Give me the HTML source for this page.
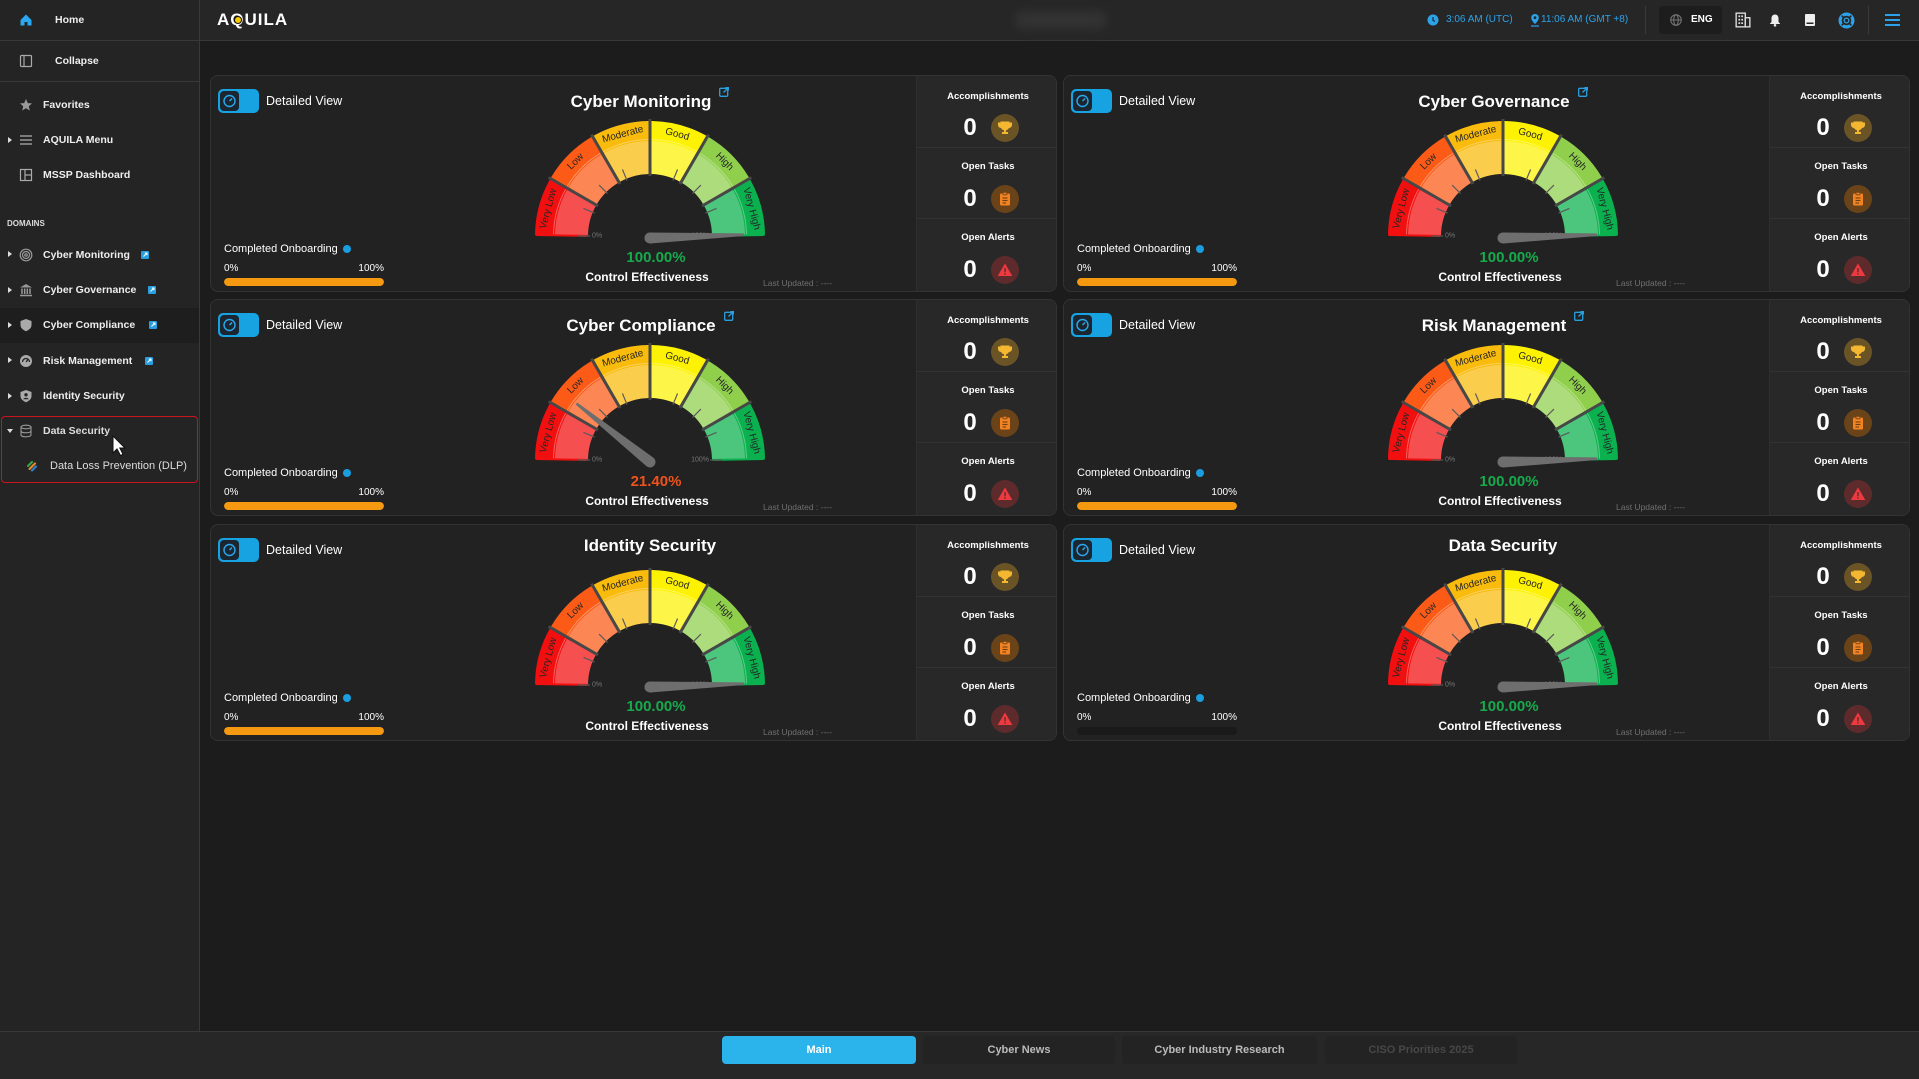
<!DOCTYPE html>
<html><head><meta charset="utf-8">
<style>
*{box-sizing:border-box;margin:0;padding:0}
html,body{width:1919px;height:1079px;overflow:hidden;background:#1c1c1c;font-family:"Liberation Sans",sans-serif;color:#fff}
.abs{position:absolute}
#side{position:absolute;left:0;top:0;width:200px;height:1031px;background:#242424;border-right:1px solid #383838}
.hr{position:absolute;left:0;width:199px;height:1px;background:#383838}
.si{position:absolute;left:43px;font-size:10.5px;font-weight:bold;color:#eee;line-height:14px;height:14px;white-space:nowrap}
.ico{position:absolute;left:19px;width:14px;height:14px}
.car{position:absolute;left:8px;width:0;height:0;border-left:4px solid #ddd;border-top:3.5px solid transparent;border-bottom:3.5px solid transparent}
.lkb{position:absolute;width:8px;height:8px}
#hdr{position:absolute;left:200px;top:0;width:1719px;height:41px;background:#262626;border-bottom:1px solid #383838}
.ht{position:absolute;top:14px;font-size:10px;line-height:12px;color:#2ba3ea;white-space:nowrap}
.card{position:absolute;width:847px;height:217px;background:#222;border:1px solid #333;border-radius:8px;overflow:hidden}
.tog{position:absolute;left:7px;top:13px;width:41px;height:24px;background:#17a2e2;border-radius:5px}
.ti{position:absolute;left:2px;top:2px;width:19px;height:20px;background:#1b2630;border-radius:4px}
.dv{position:absolute;left:55px;top:17px;font-size:12.5px;line-height:16px;white-space:nowrap}
.ttl{position:absolute;left:239px;width:400px;top:11px;text-align:center;font-weight:bold;font-size:17px;line-height:20px;white-space:nowrap}
.ttl svg{vertical-align:10px;margin-left:8px}
.g{position:absolute;left:309px;top:38px}
.val{position:absolute;left:345px;width:200px;top:172px;text-align:center;font-weight:bold;font-size:15px;line-height:20px;color:#17aa4d}
.ce{position:absolute;left:336px;width:200px;top:193px;text-align:center;font-weight:bold;font-size:12px;line-height:16px}
.co{position:absolute;left:13px;top:166px;font-size:11px;line-height:14px;white-space:nowrap}
.info{position:absolute;left:132px;top:169px;width:8px;height:8px;border-radius:50%;background:#1a9ee0}
.p0{position:absolute;left:13px;top:187px;font-size:10px;line-height:12px}
.p1{position:absolute;left:113px;width:60px;text-align:right;top:187px;font-size:10px;line-height:12px}
.bar{position:absolute;left:13px;top:202px;width:160px;height:8px;border-radius:4px;background:#1a1a1a;overflow:hidden}
.bar div{height:100%;background:#f59a10;border-radius:4px}
.lu{position:absolute;left:552px;top:202px;font-size:8.5px;line-height:10px;color:#707070;white-space:nowrap}
.st{position:absolute;left:705px;top:0;width:142px;height:217px;background:#282828;border-left:1px solid #2e2e2e}
.sl{position:absolute;left:0;width:142px;text-align:center;font-size:9.5px;font-weight:bold;line-height:12px}
.z{position:absolute;left:43px;width:20px;text-align:center;font-size:24px;font-weight:bold;line-height:28px}
.ic{position:absolute;left:74px;width:28px;height:28px;border-radius:50%}
.ic svg{position:absolute;left:6px;top:6px}
.hd{position:absolute;left:0;width:142px;height:1px;background:#333}
#ftr{position:absolute;left:0;top:1031px;width:1919px;height:48px;background:#272727;border-top:1px solid #383838}
.tab{position:absolute;top:4px;height:28px;width:193px;border-radius:4px;background:#232323;text-align:center;font-size:11px;line-height:28px;color:#bbb;white-space:nowrap;font-weight:bold}
</style></head><body>

<svg width="0" height="0" style="position:absolute">
<defs>
<path id="sg" d="M-112.98,-1.97A113,113 0 0 1 -98.83,-54.78L-55.98,-31.03A64,64 0 0 0 -63.99,-1.12Z" stroke-width="4" stroke-linejoin="round"/>
<path id="ov" d="M-94.99,-1.66A95,95 0 0 1 -83.09,-46.06L-54.23,-30.06A62,62 0 0 0 -61.99,-1.08Z" fill="#fff" fill-opacity=".27"/>
<path id="ln" d="M-96.49,-1.68A96.5,96.5 0 0 1 -84.40,-46.78" stroke="#fff" stroke-opacity=".35" fill="none"/>
<g id="base">
<use href="#sg" fill="#f20f0f" stroke="#f20f0f"/><use href="#ov"/><use href="#ln"/>
<g transform="rotate(30)"><use href="#sg" fill="#fb5b16" stroke="#fb5b16"/><use href="#ov"/><use href="#ln"/></g>
<g transform="rotate(60)"><use href="#sg" fill="#f9bb0c" stroke="#f9bb0c"/><use href="#ov"/><use href="#ln"/></g>
<g transform="rotate(90)"><use href="#sg" fill="#fdf204" stroke="#fdf204"/><use href="#ov"/><use href="#ln"/></g>
<g transform="rotate(120)"><use href="#sg" fill="#8fcf4c" stroke="#8fcf4c"/><use href="#ov"/><use href="#ln"/></g>
<g transform="rotate(150)"><use href="#sg" fill="#0ab14e" stroke="#0ab14e"/><use href="#ov"/><use href="#ln"/></g>
<g stroke="#474747" stroke-width="3">
<line x1="-60" y1="0" x2="-117" y2="0" transform="rotate(30)"/>
<line x1="-60" y1="0" x2="-117" y2="0" transform="rotate(60)"/>
<line x1="-60" y1="0" x2="-117" y2="0" transform="rotate(90)"/>
<line x1="-60" y1="0" x2="-117" y2="0" transform="rotate(120)"/>
<line x1="-60" y1="0" x2="-117" y2="0" transform="rotate(150)"/>
</g>
<g stroke="#5a5a5a" stroke-width="1.2">
<line x1="-60" y1="0" x2="-72" y2="0"/>
<line x1="-60" y1="0" x2="-72" y2="0" transform="rotate(22.5)"/>
<line x1="-60" y1="0" x2="-72" y2="0" transform="rotate(45)"/>
<line x1="-60" y1="0" x2="-72" y2="0" transform="rotate(67.5)"/>
<line x1="-60" y1="0" x2="-72" y2="0" transform="rotate(112.5)"/>
<line x1="-60" y1="0" x2="-72" y2="0" transform="rotate(135)"/>
<line x1="-60" y1="0" x2="-72" y2="0" transform="rotate(157.5)"/>
<line x1="-60" y1="0" x2="-72" y2="0" transform="rotate(180)"/>
</g>
</g>
<g id="tgi" fill="none" stroke="#2aa8ee" stroke-width="1.4"><circle cx="9.5" cy="10" r="5.5"/><line x1="9.5" y1="10" x2="12" y2="7.5"/></g>
<g id="lnk"><rect x="0.7" y="1.3" width="8" height="8" rx="1" fill="none" stroke="#2a9fe0" stroke-width="1.3"/><path d="M4.5 5.5L9.5 0.5M6.5 0.5H9.5V3.5" fill="none" stroke="#2a9fe0" stroke-width="1.3"/></g>
<g id="lkb"><rect width="8" height="8" rx="1" fill="#2a9fe0"/><path d="M2.5 5.5L6 2M3.8 2H6V4.2" stroke="#fff" stroke-width="1" fill="none"/></g>
</defs>
</svg>

<!-- SIDEBAR -->
<div id="side">
  <div class="hr" style="top:40px"></div>
  <div class="hr" style="top:81px"></div>
  <svg class="ico" style="top:13px" viewBox="0 0 14 14"><path d="M1.5 7L7 1.5L12.5 7V12.5H8.5V9H5.5V12.5H1.5Z" fill="#2aa8f0"/></svg>
  <div class="si" style="left:55px;top:13px">Home</div>
  <svg class="ico" style="top:54px" viewBox="0 0 14 14"><rect x="1.5" y="1.5" width="11" height="11" rx="1" fill="none" stroke="#aaa" stroke-width="1.2"/><line x1="5" y1="1.5" x2="5" y2="12.5" stroke="#aaa" stroke-width="1.2"/></svg>
  <div class="si" style="left:55px;top:54px">Collapse</div>
  <svg class="ico" style="top:98px" viewBox="0 0 14 14"><path d="M7 1L8.8 5.1L13 5.4L9.8 8.2L10.8 12.5L7 10.2L3.2 12.5L4.2 8.2L1 5.4L5.2 5.1Z" fill="#999"/></svg>
  <div class="si" style="top:98px">Favorites</div>
  <div class="car" style="top:136.5px"></div>
  <svg class="ico" style="top:133px" viewBox="0 0 14 14"><g stroke="#aaa" stroke-width="1.3"><line x1="1" y1="3" x2="13" y2="3"/><line x1="1" y1="7" x2="13" y2="7"/><line x1="1" y1="11" x2="13" y2="11"/></g></svg>
  <div class="si" style="top:133px">AQUILA Menu</div>
  <svg class="ico" style="top:168px" viewBox="0 0 14 14"><rect x="1.5" y="1.5" width="11" height="11" fill="none" stroke="#aaa" stroke-width="1.2"/><line x1="6" y1="1.5" x2="6" y2="12.5" stroke="#aaa" stroke-width="1.2"/><line x1="6" y1="7" x2="12.5" y2="7" stroke="#aaa" stroke-width="1.2"/></svg>
  <div class="si" style="top:168px">MSSP Dashboard</div>
  <div class="abs" style="left:7px;top:219px;font-size:8px;font-weight:bold;color:#ddd;line-height:10px">DOMAINS</div>

  <div class="car" style="top:251px"></div>
  <svg class="ico" style="top:247.5px" viewBox="0 0 14 14"><g fill="none" stroke="#999" stroke-width="1.2"><circle cx="7" cy="7" r="5.8"/><circle cx="7" cy="7" r="3.5"/><circle cx="7" cy="7" r="1.2"/></g></svg>
  <div class="si" style="top:247.5px">Cyber Monitoring</div>
  <svg class="lkb" style="left:141px;top:250.5px"><use href="#lkb"/></svg>

  <div class="car" style="top:286.5px"></div>
  <svg class="ico" style="top:283px" viewBox="0 0 14 14"><path d="M1 4.5L7 1L13 4.5Z" fill="#999"/><g stroke="#999" stroke-width="1.5"><line x1="3" y1="5.5" x2="3" y2="11"/><line x1="5.7" y1="5.5" x2="5.7" y2="11"/><line x1="8.3" y1="5.5" x2="8.3" y2="11"/><line x1="11" y1="5.5" x2="11" y2="11"/><line x1="1" y1="12.5" x2="13" y2="12.5"/></g></svg>
  <div class="si" style="top:283px">Cyber Governance</div>
  <svg class="lkb" style="left:148px;top:286px"><use href="#lkb"/></svg>

  <div class="abs" style="left:0;top:308px;width:199px;height:35px;background:#1e1e1e"></div>
  <div class="car" style="top:321.5px"></div>
  <svg class="ico" style="top:318px" viewBox="0 0 14 14"><path d="M7 1L12.5 3V7C12.5 10 10 12 7 13.2C4 12 1.5 10 1.5 7V3Z" fill="#aaa"/></svg>
  <div class="si" style="top:318px">Cyber Compliance</div>
  <svg class="lkb" style="left:149px;top:321px"><use href="#lkb"/></svg>

  <div class="car" style="top:357px"></div>
  <svg class="ico" style="top:353.5px" viewBox="0 0 14 14"><circle cx="7" cy="7" r="6" fill="#aaa"/><path d="M3.5 8A3.5 3.5 0 0 1 10.5 8" fill="none" stroke="#242424" stroke-width="1.3"/><line x1="7" y1="8" x2="9" y2="5.5" stroke="#242424" stroke-width="1.3"/></svg>
  <div class="si" style="top:353.5px">Risk Management</div>
  <svg class="lkb" style="left:145px;top:356.5px"><use href="#lkb"/></svg>

  <div class="car" style="top:392.5px"></div>
  <svg class="ico" style="top:389px" viewBox="0 0 14 14"><path d="M7 1L12.5 3V7C12.5 10 10 12 7 13.2C4 12 1.5 10 1.5 7V3Z" fill="#aaa"/><circle cx="7" cy="5.8" r="1.7" fill="#242424"/><path d="M4.3 10.3C4.8 8.3 9.2 8.3 9.7 10.3Z" fill="#242424"/></svg>
  <div class="si" style="top:389px">Identity Security</div>

  <div class="abs" style="left:1px;top:416px;width:197px;height:67px;border:1.5px solid #c8141e;border-radius:4px"></div>
  <div class="abs" style="left:7px;top:429px;width:0;height:0;border-top:4px solid #ddd;border-left:3.5px solid transparent;border-right:3.5px solid transparent"></div>
  <svg class="ico" style="top:424px" viewBox="0 0 14 14"><g fill="none" stroke="#999" stroke-width="1.1"><ellipse cx="7" cy="3" rx="5" ry="1.8"/><path d="M2 3V11C2 12 4 12.8 7 12.8C10 12.8 12 12 12 11V3"/><path d="M2 7C2 8 4 8.8 7 8.8C10 8.8 12 8 12 7"/></g></svg>
  <div class="si" style="top:424px;color:#ddd">Data Security</div>
  <svg class="abs" style="left:112px;top:435px" width="16" height="22" viewBox="0 0 16 22"><path d="M1 1V18L5 14L8.5 20.5L11 19.3L7.8 13H13Z" fill="#fff" stroke="#111" stroke-width="1"/></svg>
  <svg class="abs" style="left:26px;top:460px" width="12" height="12" viewBox="0 0 12 12"><g stroke-width="2.2" stroke-linecap="round"><line x1="2" y1="6" x2="6" y2="2" stroke="#3fa34d"/><line x1="3.5" y1="9" x2="9" y2="3.5" stroke="#e38b2b"/><line x1="6" y1="10.5" x2="10" y2="6.5" stroke="#2e7fd0"/></g></svg>
  <div class="si" style="left:50px;top:459px;color:#ddd;font-weight:normal;font-size:11px">Data Loss Prevention (DLP)</div>
</div>

<!-- HEADER -->
<div id="hdr">
  <div class="abs" style="left:17px;top:10px;font-size:17px;font-weight:bold;letter-spacing:1px;line-height:20px">AQUILA</div>
  <div class="abs" style="left:34.5px;top:17px;width:6px;height:6px;border-radius:50%;background:#f5c800;box-shadow:0 0 0 1px #111"></div>
  <div class="abs" style="left:815px;top:11px;width:92px;height:18px;border-radius:8px;background:#333;filter:blur(5px)"></div>
  <svg class="abs" style="left:1227px;top:14px" width="12" height="12" viewBox="0 0 12 12"><circle cx="6" cy="6" r="5.5" fill="#2ba3ea"/><path d="M6 3V6.3L8 7.5" stroke="#262626" stroke-width="1.2" fill="none"/></svg>
  <div class="ht" style="left:1246px">3:06 AM (UTC)</div>
  <svg class="abs" style="left:1330px;top:13px" width="10" height="14" viewBox="0 0 10 14"><path d="M5 1C2.8 1 1.2 2.7 1.2 4.7C1.2 7.5 5 11 5 11C5 11 8.8 7.5 8.8 4.7C8.8 2.7 7.2 1 5 1Z" fill="#2ba3ea"/><circle cx="5" cy="4.7" r="1.4" fill="#262626"/><line x1="1" y1="13" x2="9" y2="13" stroke="#2ba3ea" stroke-width="1.2"/></svg>
  <div class="ht" style="left:1341px">11:06 AM (GMT +8)</div>
  <div class="abs" style="left:1445px;top:6px;width:1px;height:28px;background:#3a3a3a"></div>
  <div class="abs" style="left:1459px;top:6px;width:63px;height:28px;border-radius:4px;background:#1d1d1d"></div>
  <svg class="abs" style="left:1470px;top:14px" width="12" height="12" viewBox="0 0 12 12"><g fill="none" stroke="#777" stroke-width="1"><circle cx="6" cy="6" r="5.3"/><ellipse cx="6" cy="6" rx="2.3" ry="5.3"/><line x1="0.7" y1="6" x2="11.3" y2="6"/></g></svg>
  <div class="abs" style="left:1491px;top:14px;font-size:10px;font-weight:bold;line-height:12px">ENG</div>
  <svg class="abs" style="left:1535px;top:12px" width="16" height="16" viewBox="0 0 14 14"><rect x="1" y="1" width="8" height="12" fill="none" stroke="#ddd" stroke-width="1.2"/><rect x="9" y="5" width="4" height="8" fill="none" stroke="#ddd" stroke-width="1.2"/><g fill="#ddd"><rect x="3" y="3" width="1.5" height="1.5"/><rect x="5.5" y="3" width="1.5" height="1.5"/><rect x="3" y="6" width="1.5" height="1.5"/><rect x="5.5" y="6" width="1.5" height="1.5"/><rect x="3" y="9" width="1.5" height="1.5"/><rect x="5.5" y="9" width="1.5" height="1.5"/></g></svg>
  <svg class="abs" style="left:1569px;top:13px" width="12" height="14" viewBox="0 0 12 14"><path d="M6 1.5C3.5 1.5 2.5 3.5 2.5 5.5V9L1 10.5V11H11V10.5L9.5 9V5.5C9.5 3.5 8.5 1.5 6 1.5Z" fill="#eee"/><circle cx="6" cy="12.3" r="1.3" fill="#eee"/></svg>
  <svg class="abs" style="left:1604px;top:13px" width="12" height="14" viewBox="0 0 12 14"><rect x="1" y="1" width="10" height="12" rx="1" fill="#eee"/><rect x="2.5" y="9.5" width="7" height="1.5" fill="#262626"/></svg>
  <svg class="abs" style="left:1638px;top:12px" width="17" height="17" viewBox="0 0 16 16"><circle cx="8" cy="8" r="6" fill="none" stroke="#2ba3ea" stroke-width="3"/><circle cx="8" cy="8" r="2.2" fill="none" stroke="#2ba3ea" stroke-width="1.2"/><g stroke="#262626" stroke-width="1.5"><line x1="3.5" y1="3.5" x2="5.8" y2="5.8"/><line x1="12.5" y1="3.5" x2="10.2" y2="5.8"/><line x1="3.5" y1="12.5" x2="5.8" y2="10.2"/><line x1="12.5" y1="12.5" x2="10.2" y2="10.2"/></g></svg>
  <div class="abs" style="left:1668px;top:6px;width:1px;height:28px;background:#3a3a3a"></div>
  <svg class="abs" style="left:1684px;top:13px" width="17" height="14" viewBox="0 0 17 14"><g stroke="#2ba3ea" stroke-width="2"><line x1="1" y1="2" x2="16" y2="2"/><line x1="1" y1="7" x2="16" y2="7"/><line x1="1" y1="12" x2="16" y2="12"/></g></svg>
</div>

<!-- CARD 1 -->
<div class="card" style="left:210px;top:75px">
  <div class="tog"><div class="ti"><svg width="19" height="20"><use href="#tgi"/></svg></div></div>
  <div class="dv">Detailed View</div>
  <div class="ttl">Cyber Monitoring<svg width="10" height="10" viewBox="0 0 10 10"><use href="#lnk"/></svg></div>
  <svg class="g" width="260" height="130" viewBox="-130 -122 260 130">
    <use href="#base"/>
    <g font-size="10" fill="#262626" text-anchor="middle"><text transform="rotate(-75) translate(0,-106)" dy="3.5">Very Low</text><text transform="rotate(-45) translate(0,-106)" dy="3.5">Low</text><text transform="rotate(-15) translate(0,-106)" dy="3.5">Moderate</text><text transform="rotate(15) translate(0,-106)" dy="3.5">Good</text><text transform="rotate(45) translate(0,-106)" dy="3.5">High</text><text transform="rotate(75) translate(0,-106)" dy="3.5">Very High</text></g>
    <text x="-58" y="1.5" font-size="7" fill="#777">0%</text><text x="59" y="1.5" font-size="7" fill="#777" text-anchor="end">100%</text>
    <g transform="translate(0,2) rotate(178)" fill="#6e6e6e"><path d="M0,-5.5L-94,-1.3L-94,1.3L0,5.5Z"/><circle r="5.5"/></g>
  </svg>
  <div class="val">100.00%</div>
  <div class="ce">Control Effectiveness</div>
  <div class="co">Completed Onboarding</div><div class="info"></div>
  <div class="p0">0%</div><div class="p1">100%</div>
  <div class="bar"><div style="width:100%"></div></div>
  <div class="lu">Last Updated : ----</div>
  <div class="st">
    <div class="sl" style="top:15px">Accomplishments</div>
    <div class="z" style="top:38px">0</div>
    <div class="ic" style="top:38px;background:#6a5426"><svg width="16" height="16" viewBox="0 0 16 16"><path d="M4 2H12V6A4 4 0 0 1 4 6Z M4 3H1.5V5A2.5 2.5 0 0 0 4 7.5 M12 3H14.5V5A2.5 2.5 0 0 1 12 7.5" fill="#f4b731" stroke="#f4b731" stroke-width="1"/><path d="M7 10H9V12H11V14H5V12H7Z" fill="#f4b731"/></svg></div>
    <div class="hd" style="top:71px"></div>
    <div class="sl" style="top:85px">Open Tasks</div>
    <div class="z" style="top:109px">0</div>
    <div class="ic" style="top:109px;background:#6a4418"><svg width="16" height="16" viewBox="0 0 16 16"><rect x="3" y="2.5" width="10" height="12" rx="1.2" fill="#f58220"/><rect x="6" y="1.3" width="4" height="2.5" rx=".6" fill="#f58220" stroke="#6a4418" stroke-width=".8"/><g stroke="#6a4418" stroke-width="1.1"><line x1="5.5" y1="7" x2="10.5" y2="7"/><line x1="5.5" y1="9.5" x2="10.5" y2="9.5"/><line x1="5.5" y1="12" x2="9" y2="12"/></g></svg></div>
    <div class="hd" style="top:142px"></div>
    <div class="sl" style="top:156px">Open Alerts</div>
    <div class="z" style="top:180px">0</div>
    <div class="ic" style="top:180px;background:#5e2b2d"><svg width="16" height="16" viewBox="0 0 16 16"><path d="M8 1.5L15.3 14H0.7Z" fill="#ee3a3f"/><rect x="7.3" y="6" width="1.4" height="4.3" fill="#5e2b2d"/><rect x="7.3" y="11.2" width="1.4" height="1.4" fill="#5e2b2d"/></svg></div>
  </div>
</div>

<!-- CARD 2 -->
<div class="card" style="left:1063px;top:75px">
  <div class="tog"><div class="ti"><svg width="19" height="20"><use href="#tgi"/></svg></div></div>
  <div class="dv">Detailed View</div>
  <div class="ttl">Cyber Governance<svg width="10" height="10" viewBox="0 0 10 10"><use href="#lnk"/></svg></div>
  <svg class="g" width="260" height="130" viewBox="-130 -122 260 130">
    <use href="#base"/>
    <g font-size="10" fill="#262626" text-anchor="middle"><text transform="rotate(-75) translate(0,-106)" dy="3.5">Very Low</text><text transform="rotate(-45) translate(0,-106)" dy="3.5">Low</text><text transform="rotate(-15) translate(0,-106)" dy="3.5">Moderate</text><text transform="rotate(15) translate(0,-106)" dy="3.5">Good</text><text transform="rotate(45) translate(0,-106)" dy="3.5">High</text><text transform="rotate(75) translate(0,-106)" dy="3.5">Very High</text></g>
    <text x="-58" y="1.5" font-size="7" fill="#777">0%</text><text x="59" y="1.5" font-size="7" fill="#777" text-anchor="end">100%</text>
    <g transform="translate(0,2) rotate(178)" fill="#6e6e6e"><path d="M0,-5.5L-94,-1.3L-94,1.3L0,5.5Z"/><circle r="5.5"/></g>
  </svg>
  <div class="val">100.00%</div>
  <div class="ce">Control Effectiveness</div>
  <div class="co">Completed Onboarding</div><div class="info"></div>
  <div class="p0">0%</div><div class="p1">100%</div>
  <div class="bar"><div style="width:100%"></div></div>
  <div class="lu">Last Updated : ----</div>
  <div class="st">
    <div class="sl" style="top:15px">Accomplishments</div>
    <div class="z" style="top:38px">0</div>
    <div class="ic" style="top:38px;background:#6a5426"><svg width="16" height="16" viewBox="0 0 16 16"><path d="M4 2H12V6A4 4 0 0 1 4 6Z M4 3H1.5V5A2.5 2.5 0 0 0 4 7.5 M12 3H14.5V5A2.5 2.5 0 0 1 12 7.5" fill="#f4b731" stroke="#f4b731" stroke-width="1"/><path d="M7 10H9V12H11V14H5V12H7Z" fill="#f4b731"/></svg></div>
    <div class="hd" style="top:71px"></div>
    <div class="sl" style="top:85px">Open Tasks</div>
    <div class="z" style="top:109px">0</div>
    <div class="ic" style="top:109px;background:#6a4418"><svg width="16" height="16" viewBox="0 0 16 16"><rect x="3" y="2.5" width="10" height="12" rx="1.2" fill="#f58220"/><rect x="6" y="1.3" width="4" height="2.5" rx=".6" fill="#f58220" stroke="#6a4418" stroke-width=".8"/><g stroke="#6a4418" stroke-width="1.1"><line x1="5.5" y1="7" x2="10.5" y2="7"/><line x1="5.5" y1="9.5" x2="10.5" y2="9.5"/><line x1="5.5" y1="12" x2="9" y2="12"/></g></svg></div>
    <div class="hd" style="top:142px"></div>
    <div class="sl" style="top:156px">Open Alerts</div>
    <div class="z" style="top:180px">0</div>
    <div class="ic" style="top:180px;background:#5e2b2d"><svg width="16" height="16" viewBox="0 0 16 16"><path d="M8 1.5L15.3 14H0.7Z" fill="#ee3a3f"/><rect x="7.3" y="6" width="1.4" height="4.3" fill="#5e2b2d"/><rect x="7.3" y="11.2" width="1.4" height="1.4" fill="#5e2b2d"/></svg></div>
  </div>
</div>

<!-- CARD 3 -->
<div class="card" style="left:210px;top:299px">
  <div class="tog"><div class="ti"><svg width="19" height="20"><use href="#tgi"/></svg></div></div>
  <div class="dv">Detailed View</div>
  <div class="ttl">Cyber Compliance<svg width="10" height="10" viewBox="0 0 10 10"><use href="#lnk"/></svg></div>
  <svg class="g" width="260" height="130" viewBox="-130 -122 260 130">
    <use href="#base"/>
    <g font-size="10" fill="#262626" text-anchor="middle"><text transform="rotate(-75) translate(0,-106)" dy="3.5">Very Low</text><text transform="rotate(-45) translate(0,-106)" dy="3.5">Low</text><text transform="rotate(-15) translate(0,-106)" dy="3.5">Moderate</text><text transform="rotate(15) translate(0,-106)" dy="3.5">Good</text><text transform="rotate(45) translate(0,-106)" dy="3.5">High</text><text transform="rotate(75) translate(0,-106)" dy="3.5">Very High</text></g>
    <text x="-58" y="1.5" font-size="7" fill="#777">0%</text><text x="59" y="1.5" font-size="7" fill="#777" text-anchor="end">100%</text>
    <g transform="translate(0,2) rotate(38.5)" fill="#6e6e6e"><path d="M0,-5.5L-94,-1.3L-94,1.3L0,5.5Z"/><circle r="5.5"/></g>
  </svg>
  <div class="val" style="color:#f0521c">21.40%</div>
  <div class="ce">Control Effectiveness</div>
  <div class="co">Completed Onboarding</div><div class="info"></div>
  <div class="p0">0%</div><div class="p1">100%</div>
  <div class="bar"><div style="width:100%"></div></div>
  <div class="lu">Last Updated : ----</div>
  <div class="st">
    <div class="sl" style="top:15px">Accomplishments</div>
    <div class="z" style="top:38px">0</div>
    <div class="ic" style="top:38px;background:#6a5426"><svg width="16" height="16" viewBox="0 0 16 16"><path d="M4 2H12V6A4 4 0 0 1 4 6Z M4 3H1.5V5A2.5 2.5 0 0 0 4 7.5 M12 3H14.5V5A2.5 2.5 0 0 1 12 7.5" fill="#f4b731" stroke="#f4b731" stroke-width="1"/><path d="M7 10H9V12H11V14H5V12H7Z" fill="#f4b731"/></svg></div>
    <div class="hd" style="top:71px"></div>
    <div class="sl" style="top:85px">Open Tasks</div>
    <div class="z" style="top:109px">0</div>
    <div class="ic" style="top:109px;background:#6a4418"><svg width="16" height="16" viewBox="0 0 16 16"><rect x="3" y="2.5" width="10" height="12" rx="1.2" fill="#f58220"/><rect x="6" y="1.3" width="4" height="2.5" rx=".6" fill="#f58220" stroke="#6a4418" stroke-width=".8"/><g stroke="#6a4418" stroke-width="1.1"><line x1="5.5" y1="7" x2="10.5" y2="7"/><line x1="5.5" y1="9.5" x2="10.5" y2="9.5"/><line x1="5.5" y1="12" x2="9" y2="12"/></g></svg></div>
    <div class="hd" style="top:142px"></div>
    <div class="sl" style="top:156px">Open Alerts</div>
    <div class="z" style="top:180px">0</div>
    <div class="ic" style="top:180px;background:#5e2b2d"><svg width="16" height="16" viewBox="0 0 16 16"><path d="M8 1.5L15.3 14H0.7Z" fill="#ee3a3f"/><rect x="7.3" y="6" width="1.4" height="4.3" fill="#5e2b2d"/><rect x="7.3" y="11.2" width="1.4" height="1.4" fill="#5e2b2d"/></svg></div>
  </div>
</div>

<!-- CARD 4 -->
<div class="card" style="left:1063px;top:299px">
  <div class="tog"><div class="ti"><svg width="19" height="20"><use href="#tgi"/></svg></div></div>
  <div class="dv">Detailed View</div>
  <div class="ttl">Risk Management<svg width="10" height="10" viewBox="0 0 10 10"><use href="#lnk"/></svg></div>
  <svg class="g" width="260" height="130" viewBox="-130 -122 260 130">
    <use href="#base"/>
    <g font-size="10" fill="#262626" text-anchor="middle"><text transform="rotate(-75) translate(0,-106)" dy="3.5">Very Low</text><text transform="rotate(-45) translate(0,-106)" dy="3.5">Low</text><text transform="rotate(-15) translate(0,-106)" dy="3.5">Moderate</text><text transform="rotate(15) translate(0,-106)" dy="3.5">Good</text><text transform="rotate(45) translate(0,-106)" dy="3.5">High</text><text transform="rotate(75) translate(0,-106)" dy="3.5">Very High</text></g>
    <text x="-58" y="1.5" font-size="7" fill="#777">0%</text><text x="59" y="1.5" font-size="7" fill="#777" text-anchor="end">100%</text>
    <g transform="translate(0,2) rotate(178)" fill="#6e6e6e"><path d="M0,-5.5L-94,-1.3L-94,1.3L0,5.5Z"/><circle r="5.5"/></g>
  </svg>
  <div class="val">100.00%</div>
  <div class="ce">Control Effectiveness</div>
  <div class="co">Completed Onboarding</div><div class="info"></div>
  <div class="p0">0%</div><div class="p1">100%</div>
  <div class="bar"><div style="width:100%"></div></div>
  <div class="lu">Last Updated : ----</div>
  <div class="st">
    <div class="sl" style="top:15px">Accomplishments</div>
    <div class="z" style="top:38px">0</div>
    <div class="ic" style="top:38px;background:#6a5426"><svg width="16" height="16" viewBox="0 0 16 16"><path d="M4 2H12V6A4 4 0 0 1 4 6Z M4 3H1.5V5A2.5 2.5 0 0 0 4 7.5 M12 3H14.5V5A2.5 2.5 0 0 1 12 7.5" fill="#f4b731" stroke="#f4b731" stroke-width="1"/><path d="M7 10H9V12H11V14H5V12H7Z" fill="#f4b731"/></svg></div>
    <div class="hd" style="top:71px"></div>
    <div class="sl" style="top:85px">Open Tasks</div>
    <div class="z" style="top:109px">0</div>
    <div class="ic" style="top:109px;background:#6a4418"><svg width="16" height="16" viewBox="0 0 16 16"><rect x="3" y="2.5" width="10" height="12" rx="1.2" fill="#f58220"/><rect x="6" y="1.3" width="4" height="2.5" rx=".6" fill="#f58220" stroke="#6a4418" stroke-width=".8"/><g stroke="#6a4418" stroke-width="1.1"><line x1="5.5" y1="7" x2="10.5" y2="7"/><line x1="5.5" y1="9.5" x2="10.5" y2="9.5"/><line x1="5.5" y1="12" x2="9" y2="12"/></g></svg></div>
    <div class="hd" style="top:142px"></div>
    <div class="sl" style="top:156px">Open Alerts</div>
    <div class="z" style="top:180px">0</div>
    <div class="ic" style="top:180px;background:#5e2b2d"><svg width="16" height="16" viewBox="0 0 16 16"><path d="M8 1.5L15.3 14H0.7Z" fill="#ee3a3f"/><rect x="7.3" y="6" width="1.4" height="4.3" fill="#5e2b2d"/><rect x="7.3" y="11.2" width="1.4" height="1.4" fill="#5e2b2d"/></svg></div>
  </div>
</div>

<!-- CARD 5 -->
<div class="card" style="left:210px;top:524px">
  <div class="tog"><div class="ti"><svg width="19" height="20"><use href="#tgi"/></svg></div></div>
  <div class="dv">Detailed View</div>
  <div class="ttl">Identity Security</div>
  <svg class="g" width="260" height="130" viewBox="-130 -122 260 130">
    <use href="#base"/>
    <g font-size="10" fill="#262626" text-anchor="middle"><text transform="rotate(-75) translate(0,-106)" dy="3.5">Very Low</text><text transform="rotate(-45) translate(0,-106)" dy="3.5">Low</text><text transform="rotate(-15) translate(0,-106)" dy="3.5">Moderate</text><text transform="rotate(15) translate(0,-106)" dy="3.5">Good</text><text transform="rotate(45) translate(0,-106)" dy="3.5">High</text><text transform="rotate(75) translate(0,-106)" dy="3.5">Very High</text></g>
    <text x="-58" y="1.5" font-size="7" fill="#777">0%</text><text x="59" y="1.5" font-size="7" fill="#777" text-anchor="end">100%</text>
    <g transform="translate(0,2) rotate(178)" fill="#6e6e6e"><path d="M0,-5.5L-94,-1.3L-94,1.3L0,5.5Z"/><circle r="5.5"/></g>
  </svg>
  <div class="val">100.00%</div>
  <div class="ce">Control Effectiveness</div>
  <div class="co">Completed Onboarding</div><div class="info"></div>
  <div class="p0">0%</div><div class="p1">100%</div>
  <div class="bar"><div style="width:100%"></div></div>
  <div class="lu">Last Updated : ----</div>
  <div class="st">
    <div class="sl" style="top:15px">Accomplishments</div>
    <div class="z" style="top:38px">0</div>
    <div class="ic" style="top:38px;background:#6a5426"><svg width="16" height="16" viewBox="0 0 16 16"><path d="M4 2H12V6A4 4 0 0 1 4 6Z M4 3H1.5V5A2.5 2.5 0 0 0 4 7.5 M12 3H14.5V5A2.5 2.5 0 0 1 12 7.5" fill="#f4b731" stroke="#f4b731" stroke-width="1"/><path d="M7 10H9V12H11V14H5V12H7Z" fill="#f4b731"/></svg></div>
    <div class="hd" style="top:71px"></div>
    <div class="sl" style="top:85px">Open Tasks</div>
    <div class="z" style="top:109px">0</div>
    <div class="ic" style="top:109px;background:#6a4418"><svg width="16" height="16" viewBox="0 0 16 16"><rect x="3" y="2.5" width="10" height="12" rx="1.2" fill="#f58220"/><rect x="6" y="1.3" width="4" height="2.5" rx=".6" fill="#f58220" stroke="#6a4418" stroke-width=".8"/><g stroke="#6a4418" stroke-width="1.1"><line x1="5.5" y1="7" x2="10.5" y2="7"/><line x1="5.5" y1="9.5" x2="10.5" y2="9.5"/><line x1="5.5" y1="12" x2="9" y2="12"/></g></svg></div>
    <div class="hd" style="top:142px"></div>
    <div class="sl" style="top:156px">Open Alerts</div>
    <div class="z" style="top:180px">0</div>
    <div class="ic" style="top:180px;background:#5e2b2d"><svg width="16" height="16" viewBox="0 0 16 16"><path d="M8 1.5L15.3 14H0.7Z" fill="#ee3a3f"/><rect x="7.3" y="6" width="1.4" height="4.3" fill="#5e2b2d"/><rect x="7.3" y="11.2" width="1.4" height="1.4" fill="#5e2b2d"/></svg></div>
  </div>
</div>

<!-- CARD 6 -->
<div class="card" style="left:1063px;top:524px">
  <div class="tog"><div class="ti"><svg width="19" height="20"><use href="#tgi"/></svg></div></div>
  <div class="dv">Detailed View</div>
  <div class="ttl">Data Security</div>
  <svg class="g" width="260" height="130" viewBox="-130 -122 260 130">
    <use href="#base"/>
    <g font-size="10" fill="#262626" text-anchor="middle"><text transform="rotate(-75) translate(0,-106)" dy="3.5">Very Low</text><text transform="rotate(-45) translate(0,-106)" dy="3.5">Low</text><text transform="rotate(-15) translate(0,-106)" dy="3.5">Moderate</text><text transform="rotate(15) translate(0,-106)" dy="3.5">Good</text><text transform="rotate(45) translate(0,-106)" dy="3.5">High</text><text transform="rotate(75) translate(0,-106)" dy="3.5">Very High</text></g>
    <text x="-58" y="1.5" font-size="7" fill="#777">0%</text><text x="59" y="1.5" font-size="7" fill="#777" text-anchor="end">100%</text>
    <g transform="translate(0,2) rotate(178)" fill="#6e6e6e"><path d="M0,-5.5L-94,-1.3L-94,1.3L0,5.5Z"/><circle r="5.5"/></g>
  </svg>
  <div class="val">100.00%</div>
  <div class="ce">Control Effectiveness</div>
  <div class="co">Completed Onboarding</div><div class="info"></div>
  <div class="p0">0%</div><div class="p1">100%</div>
  <div class="bar"><div style="width:0%"></div></div>
  <div class="lu">Last Updated : ----</div>
  <div class="st">
    <div class="sl" style="top:15px">Accomplishments</div>
    <div class="z" style="top:38px">0</div>
    <div class="ic" style="top:38px;background:#6a5426"><svg width="16" height="16" viewBox="0 0 16 16"><path d="M4 2H12V6A4 4 0 0 1 4 6Z M4 3H1.5V5A2.5 2.5 0 0 0 4 7.5 M12 3H14.5V5A2.5 2.5 0 0 1 12 7.5" fill="#f4b731" stroke="#f4b731" stroke-width="1"/><path d="M7 10H9V12H11V14H5V12H7Z" fill="#f4b731"/></svg></div>
    <div class="hd" style="top:71px"></div>
    <div class="sl" style="top:85px">Open Tasks</div>
    <div class="z" style="top:109px">0</div>
    <div class="ic" style="top:109px;background:#6a4418"><svg width="16" height="16" viewBox="0 0 16 16"><rect x="3" y="2.5" width="10" height="12" rx="1.2" fill="#f58220"/><rect x="6" y="1.3" width="4" height="2.5" rx=".6" fill="#f58220" stroke="#6a4418" stroke-width=".8"/><g stroke="#6a4418" stroke-width="1.1"><line x1="5.5" y1="7" x2="10.5" y2="7"/><line x1="5.5" y1="9.5" x2="10.5" y2="9.5"/><line x1="5.5" y1="12" x2="9" y2="12"/></g></svg></div>
    <div class="hd" style="top:142px"></div>
    <div class="sl" style="top:156px">Open Alerts</div>
    <div class="z" style="top:180px">0</div>
    <div class="ic" style="top:180px;background:#5e2b2d"><svg width="16" height="16" viewBox="0 0 16 16"><path d="M8 1.5L15.3 14H0.7Z" fill="#ee3a3f"/><rect x="7.3" y="6" width="1.4" height="4.3" fill="#5e2b2d"/><rect x="7.3" y="11.2" width="1.4" height="1.4" fill="#5e2b2d"/></svg></div>
  </div>
</div>

<!-- FOOTER -->
<div id="ftr">
  <div class="tab" style="left:722px;width:194px;background:#2bb3ec;color:#fff">Main</div>
  <div class="tab" style="left:923px;width:192px">Cyber News</div>
  <div class="tab" style="left:1122px;width:195px">Cyber Industry Research</div>
  <div class="tab" style="left:1325px;width:192px;color:#474747">CISO Priorities 2025</div>
</div>

</body></html>
